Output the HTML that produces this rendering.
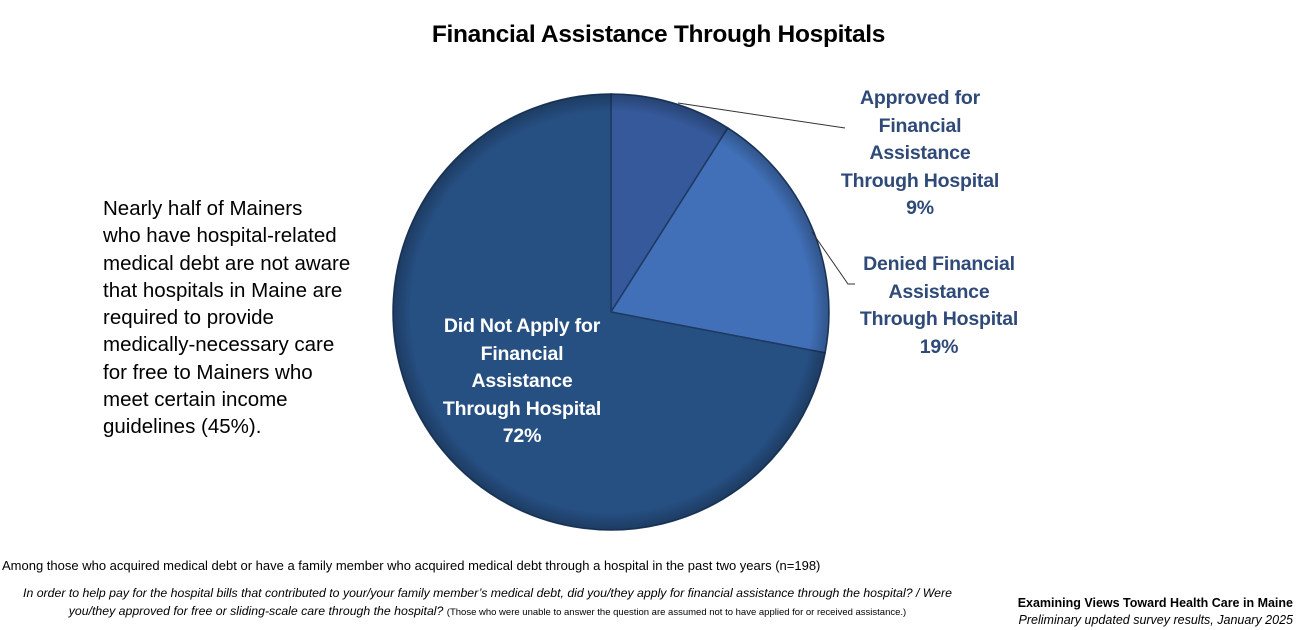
<!DOCTYPE html>
<html><head><meta charset="utf-8"><style>
body{margin:0;width:1305px;height:630px;background:#fff;font-family:"Liberation Sans",sans-serif;position:relative;overflow:hidden}
.t{position:absolute;white-space:nowrap}
.lbl{position:absolute;text-align:center;color:#2F4A78;font-weight:bold;font-size:19.5px;line-height:27.5px;letter-spacing:-0.2px}
</style></head><body>
<div class="t" style="left:0;width:1317px;text-align:center;top:21px;font-size:24.5px;font-weight:bold;letter-spacing:-0.3px">Financial Assistance Through Hospitals</div>
<div class="t" style="left:103px;top:195px;font-size:20.5px;line-height:27.3px;letter-spacing:0px">Nearly half of Mainers<br>who have hospital-related<br>medical debt are not aware<br>that hospitals in Maine are<br>required to provide<br>medically-necessary care<br>for free to Mainers who<br>meet certain income<br>guidelines (45%).</div>
<svg id="pie" width="1305" height="630" style="position:absolute;left:0;top:0">
<defs><radialGradient id="sh" cx="50%" cy="50%" r="50%"><stop offset="92%" stop-color="#000" stop-opacity="0"/><stop offset="100%" stop-color="#000" stop-opacity="0.25"/></radialGradient></defs>
<g id="slices"></g>
<circle cx="611" cy="312" r="218" fill="url(#sh)"/>
<polyline points="678,103 845,128" stroke="#333" stroke-width="1" fill="none"/>
<polyline points="812,232 848,284 855,284" stroke="#333" stroke-width="1" fill="none"/>
</svg>
<div class="lbl" style="left:810px;width:220px;top:85px">Approved for<br>Financial<br>Assistance<br>Through Hospital<br>9%</div>
<div class="lbl" style="left:819px;width:240px;top:251px">Denied Financial<br>Assistance<br>Through Hospital<br>19%</div>
<div class="lbl" style="left:402px;width:240px;top:313px;color:#fff">Did Not Apply for<br>Financial<br>Assistance<br>Through Hospital<br>72%</div>
<div class="t" style="left:2px;top:558px;font-size:13px">Among those who acquired medical debt or have a family member who acquired medical debt through a hospital in the past two years (n=198)</div>
<div class="t" style="left:0;width:975px;text-align:center;top:584px;font-size:12.3px;font-style:italic;line-height:18px;white-space:normal">In order to help pay for the hospital bills that contributed to your/your family member’s medical debt, did you/they apply for financial assistance through the hospital? / Were you/they approved for free or sliding-scale care through the hospital? <span style="font-size:9.5px;font-style:normal">(Those who were unable to answer the question are assumed not to have applied for or received assistance.)</span></div>
<div class="t" style="right:12px;top:596px;font-size:12.5px;font-weight:bold;text-align:right">Examining Views Toward Health Care in Maine</div>
<div class="t" style="right:12px;top:613px;font-size:12.5px;font-style:italic;text-align:right">Preliminary updated survey results, January 2025</div>
<script>
const categories=["Approved","Denied","Did Not Apply"];
const values=[9,19,72];
const colors=["#35599A","#4170B8","#264F82"];
const cx=611,cy=312,r=218;
const g=document.getElementById('slices');
const total=values.reduce((a,b)=>a+b,0);
let a0=0;
values.forEach((v,i)=>{
  const a1=a0+v/total*2*Math.PI;
  const x0=cx+r*Math.sin(a0),y0=cy-r*Math.cos(a0),x1=cx+r*Math.sin(a1),y1=cy-r*Math.cos(a1);
  const p=document.createElementNS('http://www.w3.org/2000/svg','path');
  p.setAttribute('d',`M${cx},${cy}L${x0},${y0}A${r},${r} 0 ${a1-a0>Math.PI?1:0} 1 ${x1},${y1}Z`);
  p.setAttribute('fill',colors[i]);
  p.setAttribute('stroke','#1E3A60');
  p.setAttribute('stroke-width','1.5');
  
  
  g.appendChild(p);
  a0=a1;
});
</script>
</body></html>
